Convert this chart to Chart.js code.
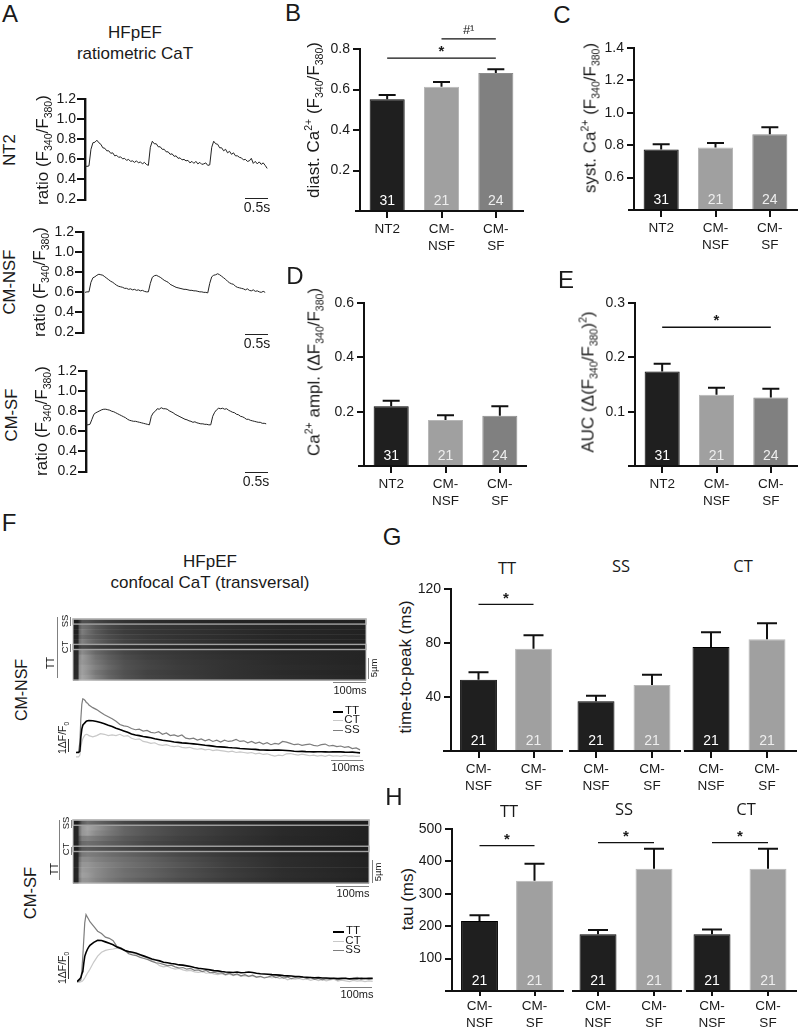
<!DOCTYPE html>
<html><head><meta charset="utf-8">
<script src="https://cdn.jsdelivr.net/npm/chart.js@4"></script>
<style>
html,body{margin:0;padding:0;background:#fff}
#page{position:relative;width:800px;height:1029px;overflow:hidden;font-family:"Liberation Sans",Arial,sans-serif;color:#1a1a1a}
#page canvas{position:absolute}
.t{position:absolute;white-space:nowrap;line-height:1}
.t sub,.t sup{font-size:62%;line-height:0}
.r{position:absolute}
</style></head><body><div id="page"></div>
<script>
// ---------- bar panel data ----------
const CATS3=['NT2',['CM-','NSF'],['CM-','SF']];
const CATS2=[['CM-','NSF'],['CM-','SF']];
const N3=['31','21','24'];
const N2=['21','21'];
const B_MEAN=[0.552,0.614,0.681];
const B_TOP=[0.573,0.637,0.700];
const B_TICKS=[0.2,0.4,0.6,0.8];
const C_MEAN=[0.774,0.786,0.868];
const C_TOP=[0.806,0.814,0.911];
const C_TICKS=[0.6,0.8,1.0,1.2,1.4];
const D_MEAN=[0.220,0.169,0.185];
const D_TOP=[0.240,0.187,0.220];
const D_TICKS=[0.2,0.4,0.6];
const E_MEAN=[0.174,0.131,0.126];
const E_TOP=[0.188,0.144,0.142];
const E_TICKS=[0.1,0.2,0.3];
const G_TICKS=[40,80,120];
const G_TT_MEAN=[52.8,75.8], G_TT_TOP=[58.3,85.7];
const G_SS_MEAN=[36.8,48.9], G_SS_TOP=[41,56.5];
const G_CT_MEAN=[77,82.7], G_CT_TOP=[87.9,94.6];
const H_TICKS=[100,200,300,400,500];
const H_TT_MEAN=[216,340.5], H_TT_TOP=[233.5,393];
const H_SS_MEAN=[175,377.5], H_SS_TOP=[188,439];
const H_CT_MEAN=[175,377.5], H_CT_TOP=[190,439];
// ---------- ratiometric traces (panel A), one sample per TRACE_STEP seconds ----------
const TRACE_STEP=0.045;
const A_TICKS=[0.2,0.4,0.6,0.8,1.0,1.2];
const A_NT2=[.535,.53,.535,.70,.765,.77,.79,.765,.75,.715,.71,.685,.685,.66,.665,.635,.64,.62,.625,.605,.61,.59,.60,.58,.585,.57,.585,.565,.575,.555,.57,.55,.54,
.72,.78,.755,.755,.725,.725,.70,.70,.675,.675,.65,.655,.63,.635,.61,.615,.595,.60,.585,.59,.565,.58,.56,.58,.555,.57,.55,.555,.565,.54,.545,
.72,.78,.755,.75,.715,.715,.685,.70,.665,.68,.65,.665,.635,.635,.62,.615,.595,.60,.58,.585,.61,.56,.58,.555,.575,.55,.565,.54,.51];
const A_NSF=[.60,.605,.605,.70,.745,.755,.77,.78,.775,.77,.755,.74,.725,.71,.70,.685,.67,.66,.655,.65,.64,.64,.63,.635,.625,.63,.62,.625,.615,.62,.61,.605,.605,
.69,.75,.765,.77,.76,.75,.735,.72,.71,.70,.68,.67,.66,.65,.645,.64,.635,.63,.63,.625,.62,.62,.615,.615,.61,.605,.605,.60,.60,.595,
.69,.755,.77,.775,.785,.775,.76,.745,.73,.71,.695,.685,.68,.66,.65,.645,.64,.635,.625,.635,.62,.615,.625,.61,.615,.605,.60,.61,.60];
const A_SF=[.665,.665,.67,.72,.77,.785,.795,.805,.815,.82,.82,.815,.81,.80,.795,.785,.775,.765,.755,.745,.735,.72,.71,.705,.70,.70,.695,.69,.685,.68,.675,.67,.665,
.75,.785,.80,.825,.82,.835,.825,.825,.82,.805,.795,.785,.77,.76,.75,.74,.73,.72,.715,.705,.70,.69,.695,.685,.68,.675,.675,.67,.67,.665,.665,
.75,.79,.815,.83,.825,.83,.82,.825,.81,.80,.79,.785,.77,.765,.75,.745,.735,.72,.72,.71,.705,.70,.695,.69,.69,.68,.68,.675];
// ---------- confocal traces (panel F), dF/F0 against time in ms ----------
const F_TIMES=[0,8,12,15,18,21,24,28,32,36,40,52,64,76,88,100,112,124,136,148,160,172,184,196,208,220,232,244,256,268,280,292,304,316,328,340,352,364,376,388,400,412,424,436,448,460,472,484,496,508,520,532,544,556,568,580,592,604,616,628,640,652,664,676,688,700,712,724,736,748,760,772,784,796,808,820,832,844,856,868,880,892,904,916];
const NSF_TT=[0,0,.1,1.2,1.8,2.1,2.2,2.3,2.4,2.44,2.46,2.44,2.38,2.3,2.22,2.1,2.0,1.87,1.76,1.66,1.55,1.43,1.34,1.3,1.23,1.18,1.13,1.06,1.0,.94,.9,.86,.81,.78,.74,.72,.69,.66,.63,.6,.56,.53,.49,.44,.43,.41,.38,.36,.35,.31,.29,.27,.25,.24,.2,.19,.18,.17,.18,.18,.17,.15,.13,.1,.08,.09,.07,.06,.05,.06,.06,.05,.04,.05,.06,.05,.03,.02,.03,0,-.03];
const NSF_SS=[0,.05,.8,2.6,3.7,4.13,4.1,4.0,3.85,3.8,3.65,3.45,3.3,3.1,2.9,2.75,2.6,2.4,2.15,2.05,2.0,1.85,1.75,1.8,1.65,1.7,1.55,1.5,1.6,1.4,1.5,1.3,1.35,1.25,1.35,1.1,1.05,1.1,.95,1.05,.9,1.0,.85,.95,.8,.95,.85,.9,1.0,.85,.9,.75,.85,.7,.8,.65,.75,.6,.7,.65,.85,.8,.7,.6,.65,.55,.6,.65,.55,.5,.6,.65,.5,.55,.45,.5,.4,.45,.3,.35,.2];
const NSF_CT=[-.33,-.33,-.2,.4,.8,1.05,1.2,1.35,1.4,1.38,1.3,1.2,1.3,1.45,1.4,1.3,1.35,1.3,1.4,1.25,1.3,1.1,1.0,1.05,.85,.8,.7,.75,.6,.55,.6,.5,.45,.5,.4,.35,.4,.3,.25,.3,.2,.25,.15,.2,.15,.1,.05,.1,0,.05,0,-.05,0,-.1,-.05,-.15,-.1,-.2,-.28,-.2,-.25,-.1,-.08,-.15,-.2,-.12,-.18,-.25,-.2,-.28,-.22,-.3,-.2,-.28,-.25,-.3,-.22,-.28,-.26,-.3,-.28];
const SF_TT=[-.07,.03,.1,.25,.35,.7,.99,1.15,1.28,1.38,1.45,1.58,1.67,1.66,1.6,1.54,1.48,1.38,1.32,1.24,1.19,1.16,1.12,1.06,1.0,.94,.88,.84,.8,.74,.72,.69,.67,.63,.62,.59,.56,.52,.49,.47,.45,.42,.39,.38,.35,.33,.32,.31,.33,.3,.31,.33,.31,.28,.26,.25,.24,.22,.21,.2,.18,.17,.16,.14,.14,.12,.11,.1,.09,.1,.08,.08,.07,.07,.06,.07,.06,.05,.06,.05,.07,.06,.07,.07];
const SF_SS=[-.07,-.05,0,.4,1.0,1.7,2.4,2.75,2.65,2.55,2.45,2.25,2.05,1.95,1.8,1.75,1.65,1.4,1.35,1.25,1.1,1.05,1.02,.95,.9,.85,.78,.72,.7,.65,.6,.62,.55,.5,.52,.45,.48,.4,.42,.35,.4,.3,.32,.28,.3,.22,.28,.2,.25,.17,.22,.15,.2,.12,.15,.08,.12,.18,.1,.15,.07,.12,.05,.1,.08,.12,.05,.1,.02,.06,0,.05,.02,.06,0,.05,.08,.02,.06,.1,.03,.06,.02,.04];
const SF_CT=[-.11,-.1,-.08,-.07,-.03,.02,.08,.18,.28,.36,.45,.75,1.0,1.16,1.24,1.28,1.3,1.34,1.3,1.27,1.15,1.12,1.08,1.02,.98,.9,.82,.72,.6,.55,.58,.5,.45,.48,.42,.38,.4,.34,.32,.35,.28,.3,.25,.22,.26,.2,.24,.18,.22,.15,.18,.14,.17,.11,.14,.1,.13,.08,.12,.05,.1,0,.05,.03,.06,.01,.04,-.02,.03,-.03,.02,-.04,0,.03,-.05,-.01,-.04,-.07,-.02,-.05,-.03,-.07,-.04,-.06];
// ---------- line-scan images (panel F): rows of grey level against LS_TIMES ----------
const LS_TIMES=[0,15,20,28,45,70,110,160,230,330,480,650,920];
const LS_NSF=[
[28,28,48,80,78,68,58,50,44,40,36,34,32],
[32,32,90,112,105,88,72,60,54,50,44,38,34],
[32,34,98,125,110,90,72,60,54,50,44,38,34],
[34,36,95,112,102,90,76,64,56,50,44,38,34],
[36,38,108,130,115,98,80,66,58,52,44,38,34],
[30,30,60,72,68,60,54,48,44,40,36,32,30],
[36,40,120,140,125,104,86,70,60,54,46,40,36],
[40,42,135,155,140,115,94,76,64,56,48,42,36],
[38,42,140,152,140,120,98,80,68,58,50,42,36],
[40,44,145,160,148,128,104,82,70,60,50,44,38],
[38,42,145,160,145,120,98,80,66,58,50,42,36],
[40,44,148,165,152,128,102,82,68,60,50,44,38]];
const LS_SF=[
[28,30,50,90,110,100,85,70,60,50,42,35,28],
[35,38,110,150,165,150,125,100,85,70,55,42,32],
[35,38,110,150,160,140,120,100,85,70,55,42,32],
[35,38,90,125,130,120,105,90,78,65,52,40,32],
[32,35,80,105,110,105,95,85,72,62,50,40,30],
[30,32,60,85,90,85,78,70,60,52,42,35,28],
[32,36,90,120,125,120,110,100,88,72,55,42,32],
[34,38,110,140,140,130,120,110,98,80,60,45,34],
[34,40,120,150,150,140,128,115,102,85,62,45,34],
[34,38,125,155,150,140,125,110,98,80,60,45,34],
[34,40,130,160,155,140,125,112,100,82,62,46,35],
[32,38,120,150,148,135,120,105,92,76,58,44,33]];

// ---------- page helpers ----------
const page=document.getElementById('page');
const INK='#1a1a1a', AXIS='#111';
Chart.defaults.font.family='"Liberation Sans",Arial,sans-serif';
Chart.defaults.color=INK;
Chart.defaults.animation=false;
function text(html,cx,cy,size,rot,opts){
  opts=opts||{};
  const d=document.createElement('div');d.className='t';d.innerHTML=html;
  d.style.cssText=`left:${cx}px;top:${cy}px;font-size:${size}px;transform:translate(-50%,-50%) rotate(${rot||0}deg);`+(opts.font?`font-family:${opts.font};`:'');
  page.appendChild(d);
}
function rect(x,y,w,h,color){
  const d=document.createElement('div');d.className='r';
  d.style.cssText=`left:${x}px;top:${y}px;width:${w}px;height:${h}px;background:${color}`;
  page.appendChild(d);
}
function canvas(left,top,w,h){
  const c=document.createElement('canvas');c.width=w;c.height=h;
  c.style.cssText=`left:${left}px;top:${top}px;width:${w}px;height:${h}px`;
  page.appendChild(c);return c;
}
function hline(x1,x2,y,th,color){rect(x1,y,x2-x1,th||1.3,color||AXIS);}
function vline(x,y1,y2,th,color){rect(x,y1,th||1.3,y2-y1,color||AXIS);}

const BAR_FILL3=['#1f1f1f','#a0a0a0','#808080'], BAR_EDGE3=['#000','#b8b8b8','#8c8c8c'];
const BAR_FILL2=['#1f1f1f','#a0a0a0'], BAR_EDGE2=['#000','#b8b8b8'];

function barPanel(p){
  const ML=55,PT=40,PR=8,MB=52;
  const w=p.width,h=p.base-p.top;
  const cl=p.left-ML, ct=p.top-PT;
  const three=p.means.length===3;
  new Chart(canvas(cl,ct,ML+w+PR,PT+h+MB),{
    type:'bar',
    data:{labels:p.cats,datasets:[{data:p.means,backgroundColor:three?BAR_FILL3:BAR_FILL2,borderColor:three?BAR_EDGE3:BAR_EDGE2,borderWidth:1,
      barPercentage:p.barPct,categoryPercentage:1}]},
    options:{responsive:false,layout:{padding:{top:PT,right:PR}},
      plugins:{legend:{display:false},tooltip:{enabled:false}},
      scales:{
        x:{offset:true,afterFit(s){s.height=MB;},border:{display:false},
          grid:{offset:false,drawOnChartArea:false,color:AXIS,lineWidth:2,tickLength:p.xTick||7},
          ticks:{font:{size:13.5,lineHeight:1.25},color:INK,padding:p.xTick?2:3,autoSkip:false,maxRotation:0}},
        y:{min:p.min,max:p.max,afterFit(s){s.width=ML;},
          afterBuildTicks(s){s.ticks=(p.ticks||[]).map(v=>({value:v}));},
          display:true,
          border:{display:!!p.ticks,color:AXIS,width:2},
          grid:{display:!!p.ticks,drawOnChartArea:false,color:AXIS,lineWidth:2,tickLength:7},
          ticks:{display:!!p.ticks,font:{size:14},color:INK,padding:3,autoSkip:false,callback:v=>p.digits?v.toFixed(p.digits):String(v)}}
      }},
    plugins:[{id:'extras',afterDatasetsDraw(c){
      const g=c.ctx,xs=c.scales.x,ys=c.scales.y;
      g.save();
      g.strokeStyle=AXIS;g.lineWidth=2;g.beginPath();
      g.moveTo(p.axis[0]-cl,c.chartArea.bottom);g.lineTo(p.axis[1]-cl,c.chartArea.bottom);g.stroke();
      p.means.forEach((m,i)=>{
        const x=xs.getPixelForValue(i),y0=ys.getPixelForValue(m),y1=ys.getPixelForValue(p.tops[i]);
        g.lineWidth=2;g.strokeStyle=AXIS;g.beginPath();
        g.moveTo(x,y0);g.lineTo(x,y1);
        g.moveTo(x-p.cap,y1);g.lineTo(x+p.cap,y1);g.stroke();
        g.fillStyle=i===0?'#fff':'#eee';g.font='14px "Liberation Sans",Arial,sans-serif';
        g.textAlign='center';g.textBaseline='middle';
        g.fillText(p.counts[i],x,c.chartArea.bottom-10);
      });
      (p.sig||[]).forEach(s=>{
        const xa=xs.getPixelForValue(s[0]),xb=xs.getPixelForValue(s[1]),y=ys.getPixelForValue(s[2]);
        g.strokeStyle=AXIS;g.lineWidth=1.4;g.beginPath();g.moveTo(xa,y);g.lineTo(xb,y);g.stroke();
        g.fillStyle=INK;g.textAlign='center';g.textBaseline='middle';
        g.font=s[3]==='*'?'bold 15px "Liberation Sans",Arial,sans-serif':'13px "Liberation Sans",Arial,sans-serif';
        g.fillText(s[3],(xa+xb)/2+(s[4]||0),y+(s[3]==='*'?-6:-8));
      });
      g.restore();
    }}]
  });
}

function ratioTrace(p){
  const ML=45,PT=10,PB=8,PR=4;
  const PX_PER_S=44;
  const h=p.base-p.top;
  const xMin=-(p.start-p.left)/PX_PER_S, xMax=xMin+p.width/PX_PER_S;
  new Chart(canvas(p.left-ML,p.top-PT,ML+p.width+PR,PT+h+PB),{
    type:'line',
    data:{datasets:[{data:p.values.map((v,i)=>({x:i*TRACE_STEP,y:v})),borderColor:'#222',borderWidth:1,pointRadius:0,tension:0}]},
    options:{responsive:false,layout:{padding:{top:PT,right:PR,bottom:PB}},
      plugins:{legend:{display:false},tooltip:{enabled:false}},
      scales:{
        x:{type:'linear',display:false,min:xMin,max:xMax},
        y:{min:0.2,max:1.2,afterFit(s){s.width=ML;},
          afterBuildTicks(s){s.ticks=A_TICKS.map(v=>({value:v}));},
          border:{color:AXIS,width:2.4},
          grid:{drawOnChartArea:false,color:AXIS,lineWidth:2,tickLength:8},
          ticks:{font:{size:14},color:INK,padding:1,autoSkip:false,callback:v=>v.toFixed(1)}}
      }}
  });
}

function confocalTrace(p){
  const h=p.height;
  new Chart(canvas(p.left,p.top,p.width,h),{
    type:'line',
    data:{datasets:[
      {data:p.tt.map((v,i)=>({x:F_TIMES[i],y:v})),borderColor:'#000',borderWidth:1.6,pointRadius:0,tension:0},
      {data:p.ss.map((v,i)=>({x:F_TIMES[i],y:v})),borderColor:'#7d7d7d',borderWidth:1.2,pointRadius:0,tension:0},
      {data:p.ct.map((v,i)=>({x:F_TIMES[i],y:v})),borderColor:'#c8c8c8',borderWidth:1.2,pointRadius:0,tension:0}
    ]},
    options:{responsive:false,plugins:{legend:{display:false},tooltip:{enabled:false}},
      scales:{x:{type:'linear',display:false,min:0,max:p.xMax},y:{display:false,min:p.yMin,max:p.yMax}}}
  });
}

function lineScan(p){
  const PAD=2;
  new Chart(canvas(p.left-PAD,p.top-PAD,p.width+2*PAD,p.height+2*PAD),{
    type:'scatter',data:{datasets:[{data:[]}]},
    options:{responsive:false,layout:{padding:PAD},plugins:{legend:{display:false},tooltip:{enabled:false}},
      scales:{x:{type:'linear',display:false,min:0,max:p.xMax},y:{display:false,min:0,max:p.rows.length,reverse:true}}},
    plugins:[{id:'scan',beforeDatasetsDraw(c){
      const g=c.ctx,xs=c.scales.x,ys=c.scales.y;
      const x0=xs.getPixelForValue(0),x1=xs.getPixelForValue(p.xMax);
      p.rows.forEach((row,r)=>{
        const grad=g.createLinearGradient(x0,0,x1,0);
        row.forEach((v,j)=>{grad.addColorStop(Math.min(1,LS_TIMES[j]/p.xMax),`rgb(${v},${v},${v})`);});
        g.fillStyle=grad;
        const y0=ys.getPixelForValue(r),y1=ys.getPixelForValue(r+1);
        g.fillRect(x0,y0,x1-x0,y1-y0+.5);
      });
      g.strokeStyle='#a2a2a2';g.lineWidth=1.4;
      p.boxes.forEach(rw=>{
        const y0=ys.getPixelForValue(rw),y1=ys.getPixelForValue(rw+1);
        g.strokeRect(x0,y0,x1-x0,y1-y0);
      });
      g.strokeStyle='#bdbdbd';g.lineWidth=1;
      g.strokeRect(x0,ys.getPixelForValue(0),x1-x0,ys.getPixelForValue(p.rows.length)-ys.getPixelForValue(0));
    }}]
  });
}

// ---------- panel A ----------
text('A',10,14,24);
text('HFpEF',135,32,17);
text('ratiometric CaT',135,53,17);
ratioTrace({values:A_NT2,left:85,start:85,top:99,base:201,width:184});
ratioTrace({values:A_NSF,left:83,start:85,top:232,base:334,width:185});
ratioTrace({values:A_SF,left:86,start:86,top:371,base:473,width:183});
const RATIO='ratio (F<sub>340</sub>/F<sub>380</sub>)';
text('NT2',10,150,16.7,-90);
text('CM-NSF',10,282,16.7,-90);
text('CM-SF',12,415,16.7,-90);
text(RATIO,42,150,17,-90);
text(RATIO,39,282,17,-90);
text(RATIO,41,421,17,-90);
[[245,268,198,207,257],[245,268,334,343,257],[245,268,472,481,256]].forEach(b=>{hline(b[0],b[1],b[2],1.3,'#222');text('0.5s',b[4],b[3],14);});

// ---------- panels B to E ----------
text('B',293,13,24);
barPanel({left:360,width:163,top:49,base:211,min:0,max:0.8,ticks:B_TICKS,digits:1,cats:CATS3,means:B_MEAN,tops:B_TOP,counts:N3,barPct:0.645,cap:8.5,
  axis:[355,524],sig:[[0,2,0.755,'*'],[1,2,0.85,'#¹']]});
text('diast. Ca<sup>2+</sup> (F<sub>340</sub>/F<sub>380</sub>)',313,120,17,-90);
text('C',562,15,24);
barPanel({left:634,width:163,top:48,base:210,min:0.4,max:1.4,ticks:C_TICKS,digits:1,cats:CATS3,means:C_MEAN,tops:C_TOP,counts:N3,barPct:0.645,cap:8.5,axis:[628,798]});
text('syst. Ca<sup>2+</sup> (F<sub>340</sub>/F<sub>380</sub>)',590,118,17,-90);
text('D',295,276,24);
barPanel({left:364,width:163,top:303,base:466,min:0,max:0.6,ticks:D_TICKS,digits:1,cats:CATS3,means:D_MEAN,tops:D_TOP,counts:N3,barPct:0.645,cap:8.5,axis:[358,527]});
text('Ca<sup>2+</sup> ampl. (ΔF<sub>340</sub>/F<sub>380</sub>)',314,372,17,-90);
text('E',566,280,24);
barPanel({left:635,width:163,top:303,base:466,min:0,max:0.3,ticks:E_TICKS,digits:1,cats:CATS3,means:E_MEAN,tops:E_TOP,counts:N3,barPct:0.645,cap:8.5,
  axis:[628,798],sig:[[0,2,0.2553,'*']]});
text('AUC (Δ(F<sub>340</sub>/F<sub>380</sub>)<sup>2</sup>)',588,382,17,-90);

// ---------- panel F ----------
text('F',9,523,24);
text('HFpEF',210,561,17);
text('confocal CaT (transversal)',210,582,17);
text('CM-NSF',22,690,16,-90);
text('CM-SF',30,893,16.5,-90);
lineScan({left:73,top:619,width:293,height:61,xMax:908,rows:LS_NSF,boxes:[0,5]});
lineScan({left:73,top:820,width:296,height:63,xMax:918,rows:LS_SF,boxes:[0,5]});
confocalTrace({left:76,top:694,width:286,height:65,xMax:886,yMin:-.5,yMax:4.5,tt:NSF_TT,ss:NSF_SS,ct:NSF_CT});
confocalTrace({left:77,top:911,width:296,height:76,xMax:917,yMin:-.3,yMax:2.9,tt:SF_TT,ss:SF_SS,ct:SF_CT});
const GREY='#808080';
vline(56.5,617,678,1.3,GREY);vline(70,617,626,1.2,GREY);vline(70,644,652,1.2,GREY);
text('TT',51,663,10,-90);text('SS',65,621,9.5,-90);text('CT',65,647,9.5,-90);
vline(58.5,820,880,1.3,GREY);vline(71,820,828,1.2,GREY);vline(71,847,855,1.2,GREY);
text('TT',55,869,10,-90);text('SS',66,823,9.5,-90);text('CT',66,849,9.5,-90);
hline(333,366,682,1,GREY);text('100ms',350,689.5,11);
vline(368,658,679,1,GREY);text('5µm',374,668,9.5,-90);
hline(331,363,760,1,GREY);text('100ms',348,767,11);
hline(336,369,886,1,GREY);text('100ms',353,893,11);
vline(372,860,883,1,GREY);text('5µm',378,872,9.5,-90);
hline(340,372,987,1,GREY);text('100ms',357,993.5,11);
vline(67.5,739,752,1.2,'#333');text('1ΔF/F<sub>0</sub>',62,738,10.5,-90);
vline(67.5,956,979,1.2,'#333');text('1ΔF/F<sub>0</sub>',62,968,10.5,-90);
[[711,'TT','#000',1.8],[720,'CT','#c8c8c8',1.2],[730,'SS','#7d7d7d',1.4]].forEach(l=>{hline(333,343,l[0],l[3],l[2]);text(l[1],352,l[0],11.5);});
[[931,'TT','#000',1.8],[941,'CT','#c8c8c8',1.2],[950,'SS','#7d7d7d',1.4]].forEach(l=>{hline(333,344,l[0],l[3],l[2]);text(l[1],353,l[0],11.5);});

// ---------- panel G ----------
const PANEL_FONT='"Open Sans",sans-serif';
text('G',392,537,24);
text('TT',507,568,16.5,0,{font:PANEL_FONT});text('SS',621,566,16.5,0,{font:PANEL_FONT});text('CT',743,566,16.5,0,{font:PANEL_FONT});
text('time-to-peak (ms)',405,667,17,-90);
barPanel({left:451,width:110,top:589,base:751,min:0,max:120,ticks:G_TICKS,cats:CATS2,means:G_TT_MEAN,tops:G_TT_TOP,counts:N2,barPct:0.67,cap:10,axis:[443,563],sig:[[0,1,108.6,'*']]});
barPanel({left:568,width:112,top:589,base:751,min:0,max:120,cats:CATS2,means:G_SS_MEAN,tops:G_SS_TOP,counts:N2,barPct:0.66,cap:10,axis:[569,681]});
barPanel({left:683,width:112,top:589,base:751,min:0,max:120,cats:CATS2,means:G_CT_MEAN,tops:G_CT_TOP,counts:N2,barPct:0.66,cap:10,axis:[684,797]});

// ---------- panel H ----------
text('H',394,797,24);
text('TT',509,811,16.5,0,{font:PANEL_FONT});text('SS',624,809,16.5,0,{font:PANEL_FONT});text('CT',746,809,16.5,0,{font:PANEL_FONT});
text('tau (ms)',407,899,17,-90);
barPanel({left:452,width:110,top:829,base:991,min:0,max:500,ticks:H_TICKS,cats:CATS2,means:H_TT_MEAN,tops:H_TT_TOP,counts:N2,barPct:0.67,cap:10,axis:[445,564],xTick:5,sig:[[0,1,448.6,'*']]});
barPanel({left:570,width:112,top:829,base:991,min:0,max:500,cats:CATS2,means:H_SS_MEAN,tops:H_SS_TOP,counts:N2,barPct:0.66,cap:10,axis:[572,682],xTick:5,sig:[[0,1,458,'*']]});
barPanel({left:684,width:112,top:829,base:991,min:0,max:500,cats:CATS2,means:H_CT_MEAN,tops:H_CT_TOP,counts:N2,barPct:0.66,cap:10,axis:[686,797],xTick:5,sig:[[0,1,458,'*']]});
</script></body></html>
